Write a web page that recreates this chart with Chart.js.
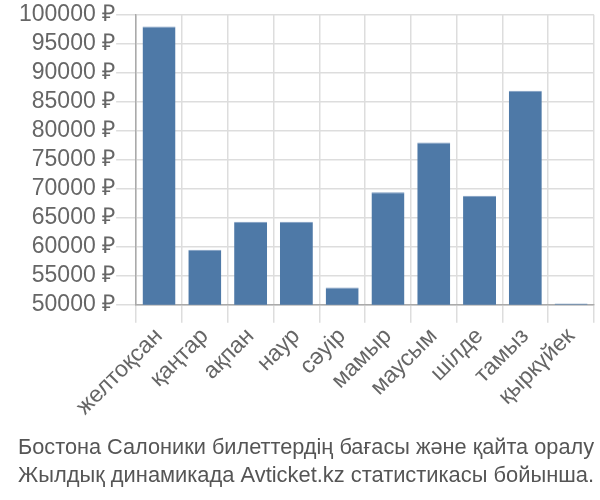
<!DOCTYPE html>
<html>
<head>
<meta charset="utf-8">
<script src="https://cdn.jsdelivr.net/npm/chart.js@4/dist/chart.umd.min.js"></script>
<style>
  html, body { margin: 0; padding: 0; background: #fff; }
  #wrap { width: 600px; height: 500px; }
</style>
</head>
<body>
<div id="wrap"><canvas id="myChart" width="600" height="500"></canvas></div>
<script>
// months (kazakh), starting from December
const months = ["желтоқсан", "қаңтар", "ақпан", "наур", "сәуір", "мамыр", "маусым", "шілде", "тамыз", "қыркүйек"];
// ticket price, roubles
const prices = [98000, 59500, 64300, 64300, 53000, 69400, 78000, 68800, 86900, 50200];
const titleLines = [
  "Бостона Салоники билеттердің бағасы және қайта оралу",
  "Жылдық динамикада Avticket.kz статистикасы бойынша."
];

const data = {
  labels: months,
  datasets: [{
    data: prices,
    backgroundColor: '#4e79a7',
    borderColor: '#7d9cc0',
    borderWidth: { top: 1, left: 0, right: 0, bottom: 0 }
  }]
};

const config = {
  type: 'bar',
  data: data,
  options: {
    responsive: false,
    animation: false,
    layout: { padding: { left: 18, right: 6, top: 4, bottom: 10 } },
    plugins: {
      legend: { display: false },
      tooltip: { enabled: false },
      title: {
        display: true,
        position: 'bottom',
        text: titleLines,
        color: '#555',
        font: { family: 'Liberation Sans', size: 22.5, weight: 'normal', lineHeight: 1.25 },
        padding: { top: 13, bottom: 0 }
      }
    },
    scales: {
      x: {
        grid: { color: '#dddddd', lineWidth: 1.5, tickLength: 18 },
        border: { color: '#aaaaaa', width: 1.5 },
        ticks: {
          color: '#666',
          minRotation: 45,
          maxRotation: 45,
          padding: 0,
          autoSkip: false,
          font: { family: 'Liberation Sans', size: 23 }
        }
      },
      y: {
        min: 50000,
        max: 100000,
        grid: { color: '#dddddd', lineWidth: 1.5, tickLength: 20 },
        border: { color: '#aaaaaa', width: 1.5 },
        ticks: {
          stepSize: 5000,
          autoSkip: false,
          color: '#666',
          padding: 1,
          font: { family: 'Liberation Sans', size: 23 },
          callback: function (v) { return v + ' ₽'; }
        }
      }
    }
  }
};

const myChart = new Chart(document.getElementById('myChart'), config);
</script>
</body>
</html>
